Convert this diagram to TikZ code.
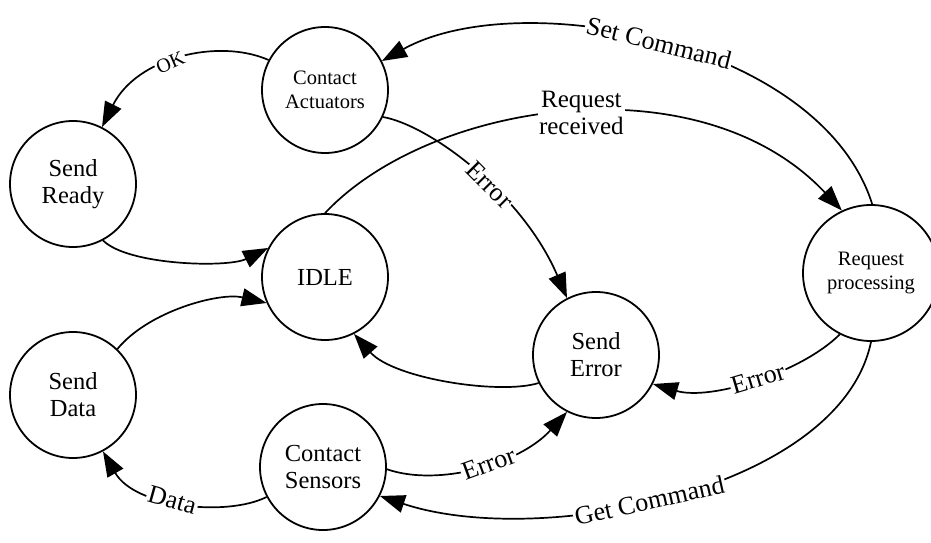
\documentclass[tikz,border=0pt]{standalone}
\usepackage{fontspec}
\setmainfont{Liberation Serif}
\usetikzlibrary{arrows.meta}
\begin{document}
\begin{tikzpicture}[x=1pt,y=-1pt,
  state/.style={circle,draw,line width=1.8pt,minimum size=126pt,inner sep=0pt,align=center,font=\fontsize{24.5}{27}\selectfont},
  smallstate/.style={state,font=\fontsize{20.5}{24}\selectfont},
  edge/.style={line width=1.7pt,-{Triangle[length=25pt,width=18pt]}},
  lbl/.style={fill=white,inner sep=1.5pt,font=\fontsize{26}{28}\selectfont,sloped}]
\useasboundingbox (0,0) rectangle (931,543);

\node[smallstate] (ca) at (325,90) {Contact\\Actuators};
\node[state] (sr) at (73,184) {Send\\Ready};
\node[state] (idle) at (325,277) {IDLE};
\node[state] (sd) at (73,395) {Send\\Data};
\node[state] (cs) at (323,467) {Contact\\Sensors};
\node[state] (se) at (596,355) {Send\\Error};
\node[smallstate,minimum size=136pt] (rp) at (871,273) {Request\\processing};

\draw[edge] (ca.152) .. controls +(-50,-22) and +(35,-70) .. (sr.63)
  node[lbl,pos=0.55,font=\fontsize{20}{22}\selectfont] {OK};
\draw[edge] (sr.-62) .. controls +(25,25) and +(-40,20) .. (idle.153);
\draw[edge] (idle.90) .. controls +(105,-112) and +(-142,-151) .. (rp.115)
  node[lbl,sloped=false,align=center,pos=0.52,font=\fontsize{25}{27}\selectfont] {Request\\received};
\draw[edge] (rp.89) .. controls +(-52,-164) and +(137,-76) .. (ca.27)
  node[lbl,pos=0.5] {Set Command};
\draw[edge] (ca.-25) .. controls +(46,8) and +(-45,-105) .. (se.117)
  node[lbl,pos=0.57] {Error};
\draw[edge] (se.206) .. controls +(-38,12) and +(40,45) .. (idle.-63);
\draw[edge] (sd.46) .. controls +(31,-38) and +(-47,-11) .. (idle.204);
\draw[edge] (cs.208) .. controls +(-40,20) and +(32,56) .. (sd.-62)
  node[lbl,pos=0.55] {Data};
\draw[edge] (cs.-2) .. controls +(52,18) and +(-47,52) .. (se.243)
  node[lbl,pos=0.55] {Error};
\draw[edge] (rp.243) .. controls +(-38,38) and +(58,17) .. (se.-27)
  node[lbl,pos=0.48] {Error};
\draw[edge] (rp.-90) .. controls +(-31,149) and +(159,53) .. (cs.-27)
  node[lbl,pos=0.54] {Get Command};
\end{tikzpicture}
\end{document}
